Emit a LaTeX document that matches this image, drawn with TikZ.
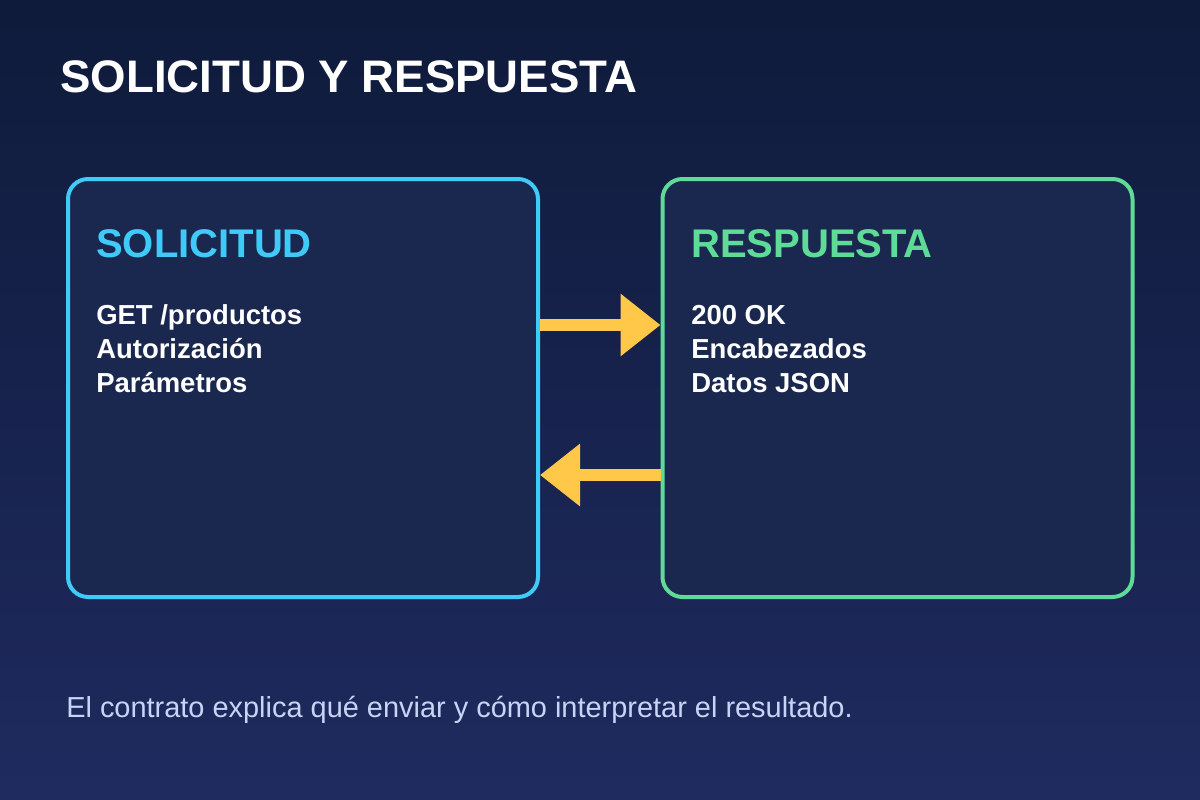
\documentclass[tikz,border=0pt]{standalone}
\usepackage{fontspec}
\setmainfont{Liberation Sans}
\usepackage{xcolor}
\usetikzlibrary{arrows.meta,positioning}
\definecolor{cbgtop}{HTML}{0F1B3B}
\definecolor{cbgbot}{HTML}{1F2A5F}
\definecolor{cpanel}{HTML}{1A2850}
\definecolor{ccyan}{HTML}{3FCBF7}
\definecolor{cmint}{HTML}{5FDB98}
\definecolor{camber}{HTML}{FFC848}
\definecolor{cnote}{HTML}{C9D3F5}

\begin{document}
\begin{tikzpicture}[x=0.75pt,y=-0.75pt,
  panel/.style={rectangle,rounded corners=15pt,line width=3pt,fill=cpanel,
                minimum width=352.5pt,minimum height=313.5pt},
  head/.style={anchor=base west,inner sep=0pt,font=\fontsize{30pt}{36pt}\selectfont\bfseries},
  item/.style={anchor=base west,inner sep=0pt,text=white,font=\fontsize{20.6pt}{25.5pt}\selectfont\bfseries},
  flecha/.style={line width=9pt,camber,-{Triangle[length=30pt,width=45pt]}}]
% fondo
\shade[top color=cbgtop,bottom color=cbgbot] (0,0) rectangle (1200,800);
\useasboundingbox (0,0) rectangle (1200,800);
\node[anchor=base west,inner sep=0pt,text=white,font=\fontsize{34.2pt}{40pt}\selectfont\bfseries]
  (titulo) at (60,92) {SOLICITUD Y RESPUESTA};
% cajas
\node[panel,draw=ccyan] (sol) at (303,388) {};
\node[panel,draw=cmint] (res) at (897.5,388) {};
\node[head,text=ccyan] (solh) at (96,257) {SOLICITUD};
\node[item] (sol1) at (96,324) {GET /productos};
\node[item] (sol2) at (96,358) {Autorización};
\node[item] (sol3) at (96,392) {Parámetros};
\node[head,text=cmint] (resh) at (691,257) {RESPUESTA};
\node[item] (res1) at (691,324) {200 OK};
\node[item] (res2) at (691,358) {Encabezados};
\node[item] (res3) at (691,392) {Datos JSON};
% flechas
\draw[flecha] (sol.east |- 0,325) -- (res.west |- 0,325);
\draw[flecha] (res.west |- 0,475) -- (sol.east |- 0,475);
\node[anchor=base west,inner sep=0pt,text=cnote,font=\fontsize{21.7pt}{26pt}\selectfont]
  (nota) at (66,717) {El contrato explica qué enviar y cómo interpretar el resultado.};
\end{tikzpicture}
\end{document}
